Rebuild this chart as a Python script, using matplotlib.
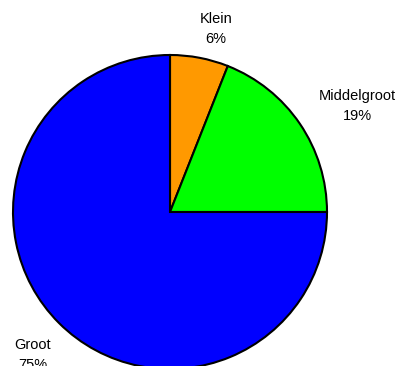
import matplotlib
matplotlib.use("Agg")
import matplotlib.pyplot as plt

categories = ["Klein", "Middelgroot", "Groot"]
shares = [6, 19, 75]
colors = ["#FF9900", "#00FF00", "#0000FF"]

# label anchor points (pixel space, y measured upward)
label_pos = [(216, 337), (357, 260), (33, 11)]

W, H = 403, 366
fig = plt.figure(figsize=(W / 100, H / 100), dpi=100)
ax = fig.add_axes([0, 0, 1, 1])

ax.pie(shares, colors=colors, startangle=90, counterclock=False,
       center=(170, H - 212), radius=157, frame=True,
       wedgeprops=dict(edgecolor="black", linewidth=1.5))
ax.set_xlim(0, W)
ax.set_ylim(0, H)
ax.set_aspect("equal")
ax.axis("off")

for name, val, (x, y) in zip(categories, shares, label_pos):
    ax.text(x, y, f"{name}\n{val}%", ha="center", va="center",
            fontsize=10.5, family="Liberation Sans", linespacing=1.55)

fig.savefig("out.png", dpi=100)
